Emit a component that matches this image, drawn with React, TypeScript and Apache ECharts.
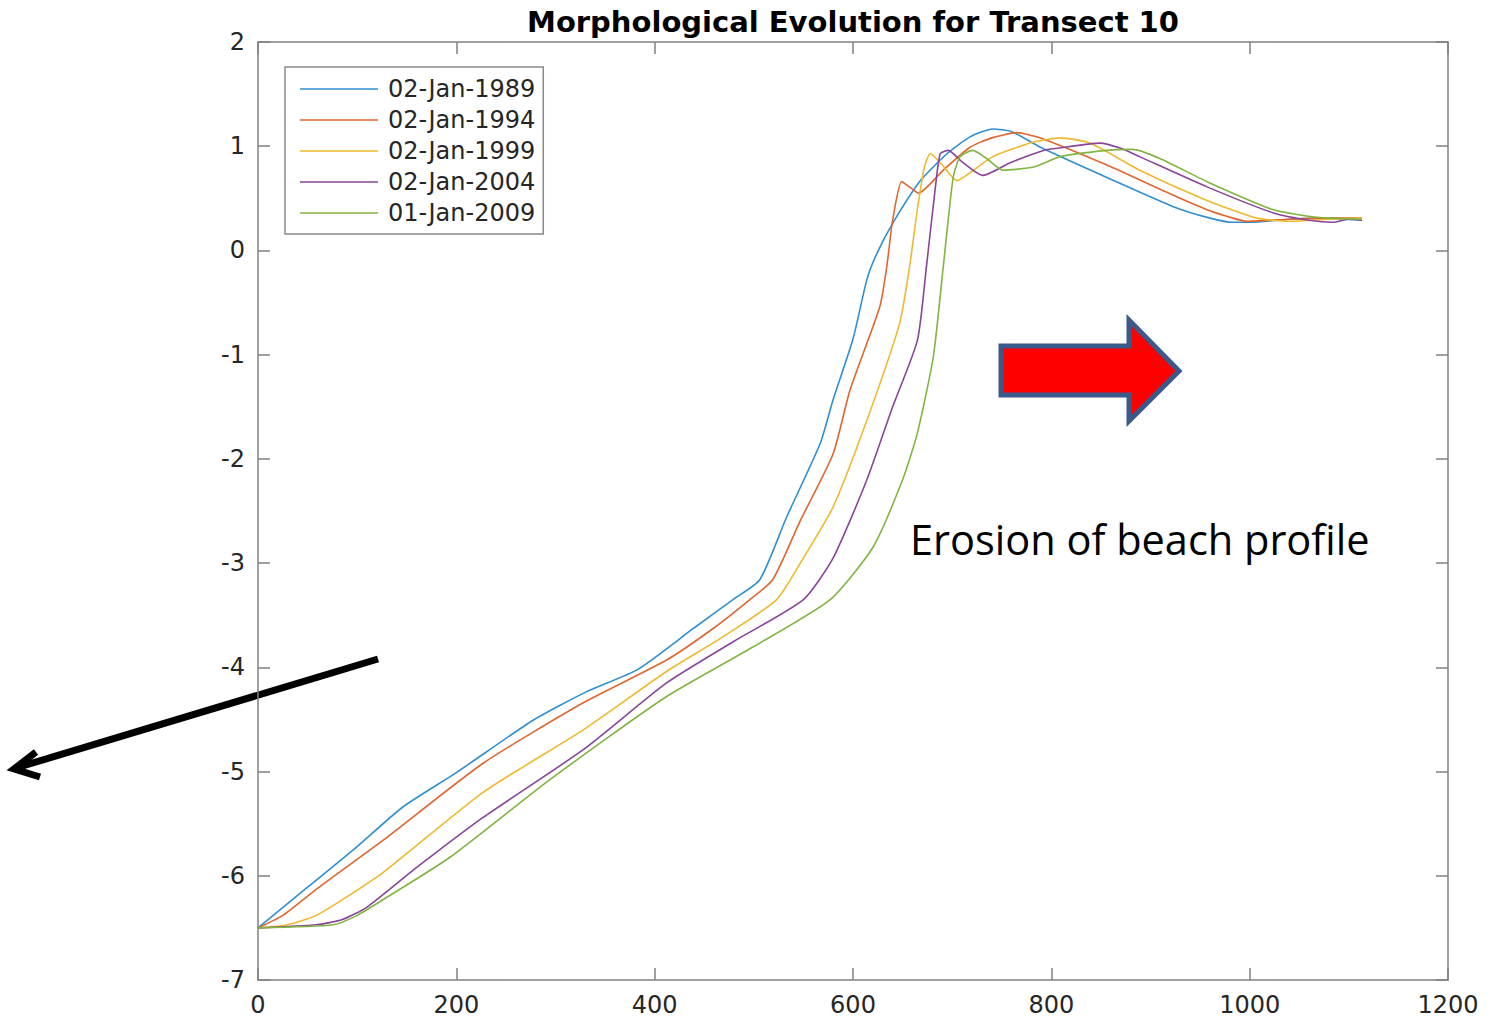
import React, { useEffect, useRef } from "react";
import * as echarts from "echarts";

const seriesNames = ["02-Jan-1989", "02-Jan-1994", "02-Jan-1999", "02-Jan-2004", "01-Jan-2009"];
const seriesColors = ["#2f8fd0", "#e0662f", "#eeb92e", "#8a449a", "#80b541"];

const profile1989 = [
  [0, -6.5], [50, -6.11], [100, -5.72], [146, -5.34], [200, -5.01], [277, -4.51], [330, -4.24],
  [383, -4.02], [440, -3.62], [479, -3.35], [506, -3.16], [533, -2.56], [567, -1.85], [580, -1.43],
  [600, -0.85], [614, -0.28], [624, -0.03], [640, 0.26], [668, 0.67], [695, 0.93], [718, 1.09],
  [741, 1.165], [760, 1.14], [789, 0.99], [856, 0.7], [923, 0.42], [960, 0.31], [983, 0.27],
  [1000, 0.27], [1040, 0.3], [1080, 0.31], [1113, 0.29],
];
const profile1994 = [
  [0, -6.5], [25, -6.38], [60, -6.12], [126, -5.66], [227, -4.92], [328, -4.34], [412, -3.93],
  [460, -3.62], [496, -3.35], [519, -3.16], [547, -2.59], [580, -1.95], [597, -1.34], [627, -0.54],
  [634, -0.16], [640, 0.29], [649, 0.66], [657, 0.61], [666, 0.55], [691, 0.77], [718, 0.99],
  [740, 1.08], [765, 1.13], [789, 1.08], [856, 0.82], [923, 0.53], [960, 0.38], [983, 0.31],
  [997, 0.28], [1040, 0.3], [1080, 0.31], [1113, 0.31],
];
const profile1999 = [
  [0, -6.5], [30, -6.47], [59, -6.38], [90, -6.2], [126, -5.97], [227, -5.2], [328, -4.6],
  [412, -4.04], [470, -3.7], [523, -3.35], [550, -2.95], [580, -2.46], [614, -1.63], [647, -0.7],
  [657, -0.16], [665, 0.4], [672, 0.8], [678, 0.93], [690, 0.82], [705, 0.67], [720, 0.76],
  [741, 0.9], [782, 1.04], [809, 1.08], [839, 1.03], [889, 0.77], [957, 0.48], [1007, 0.31],
  [1041, 0.28], [1080, 0.3], [1113, 0.31],
];
const profile2004 = [
  [0, -6.5], [59, -6.47], [85, -6.42], [110, -6.3], [160, -5.92], [227, -5.44], [328, -4.79],
  [412, -4.15], [480, -3.75], [550, -3.35], [580, -2.95], [614, -2.2], [640, -1.5], [665, -0.86],
  [674, -0.16], [683, 0.6], [688, 0.93], [696, 0.96], [710, 0.85], [731, 0.72], [758, 0.84],
  [792, 0.96], [806, 0.98], [849, 1.03], [870, 0.98], [889, 0.9], [957, 0.61], [1024, 0.36],
  [1060, 0.29], [1084, 0.27], [1100, 0.3], [1113, 0.29],
];
const profile2009 = [
  [0, -6.5], [76, -6.47], [100, -6.38], [126, -6.23], [194, -5.82], [294, -5.08], [412, -4.28],
  [500, -3.8], [577, -3.35], [620, -2.85], [650, -2.2], [665, -1.75], [681, -1.02], [691, -0.16],
  [701, 0.7], [708, 0.9], [721, 0.96], [735, 0.88], [751, 0.77], [782, 0.8], [809, 0.9],
  [856, 0.96], [882, 0.97], [910, 0.88], [957, 0.66], [1024, 0.39], [1058, 0.33], [1080, 0.31],
  [1113, 0.3],
];
const profiles = [profile1989, profile1994, profile1999, profile2004, profile2009];

const xTicks = { min: 0, max: 1200, interval: 200 };
const yTicks = { min: -7, max: 2, interval: 1 };

const titleText = "Morphological Evolution for Transect 10";
const noteText = "Erosion of beach profile";

export default function App() {
  const ref = useRef<HTMLDivElement>(null);
  useEffect(() => {
    if (!ref.current) return;
    const chart = echarts.init(ref.current, null, { renderer: "svg" });
    const axisColor = "#808080";
    const labelStyle = {
      fontFamily: "DejaVu Sans",
      fontSize: 24,
      color: "#262626",
      formatter: (v: number) => String(v),
    };
    const tick = { show: true, inside: true, length: 12, lineStyle: { color: axisColor, width: 1.5 } };
    const line = { show: true, onZero: false, lineStyle: { color: axisColor, width: 1.5 } };
    chart.setOption({
      animation: false,
      backgroundColor: "#ffffff",
      grid: { left: 258, top: 42, right: 51, bottom: 41, containLabel: false },
      xAxis: [
        {
          type: "value", position: "bottom", ...xTicks,
          axisLine: line, axisTick: tick, splitLine: { show: false },
          axisLabel: { ...labelStyle, margin: 13 },
        },
        {
          type: "value", position: "top", ...xTicks,
          axisLine: line, axisTick: tick, splitLine: { show: false },
          axisLabel: { show: false },
        },
      ],
      yAxis: [
        {
          type: "value", position: "left", ...yTicks,
          axisLine: line, axisTick: tick, splitLine: { show: false },
          axisLabel: { ...labelStyle, margin: 13 },
        },
        {
          type: "value", position: "right", ...yTicks,
          axisLine: line, axisTick: tick, splitLine: { show: false },
          axisLabel: { show: false },
        },
      ],
      legend: {
        orient: "vertical",
        left: 285,
        top: 67,
        itemWidth: 78,
        itemHeight: 20,
        itemGap: 7,
        padding: [10, 8, 9, 15],
        borderColor: "#8a8a8a",
        borderWidth: 1.5,
        backgroundColor: "#ffffff",
        icon: "path://M0,0 H78 V1.6 H0 Z",
        data: seriesNames,
        textStyle: { fontFamily: "DejaVu Sans", fontSize: 24, color: "#262626", padding: [0, 0, 0, 5] },
      },
      series: profiles.map((d, i) => ({
        name: seriesNames[i],
        type: "line",
        data: d,
        symbol: "none",
        smooth: 0.2,
        lineStyle: { color: seriesColors[i], width: 1.6 },
        itemStyle: { color: seriesColors[i] },
        z: 2,
      })),
      graphic: [
        {
          type: "text",
          x: 853,
          y: 22,
          style: {
            text: titleText,
            font: "bold 29px 'DejaVu Sans'",
            fill: "#000000",
            textAlign: "center",
            textVerticalAlign: "middle",
          },
        },
        {
          type: "text",
          x: 910,
          y: 539,
          style: {
            text: noteText,
            font: "41.5px 'Open Sans'",
            fill: "#000000",
            textAlign: "left",
            textVerticalAlign: "middle",
          },
        },
        {
          type: "polygon",
          shape: {
            points: [
              [1001, 346], [1129, 346], [1129, 320], [1179, 371],
              [1129, 421], [1129, 395], [1001, 395],
            ],
          },
          style: { fill: "#ff0000", stroke: "#3b5a8c", lineWidth: 5, lineJoin: "miter" },
        },
        {
          type: "line",
          shape: { x1: 378, y1: 659, x2: 16, y2: 768 },
          style: { stroke: "#000000", lineWidth: 7 },
        },
        {
          type: "polyline",
          shape: { points: [[36, 752], [14, 769], [40, 777]] },
          style: { stroke: "#000000", lineWidth: 7, fill: null, lineJoin: "miter" },
        },
      ],
    });
    return () => chart.dispose();
  }, []);
  return (
    <div
      ref={ref}
      style={{ position: "fixed", left: 0, top: 0, width: 1499, height: 1021, background: "#fff" }}
    />
  );
}
